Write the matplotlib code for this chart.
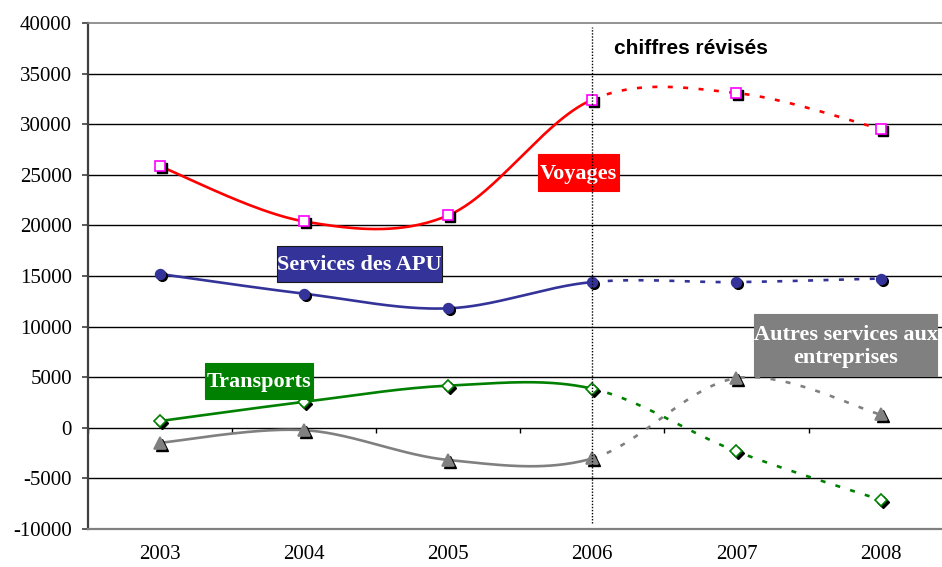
import numpy as np
import matplotlib
matplotlib.use("Agg")
import matplotlib.pyplot as plt
from matplotlib.patches import Rectangle
from matplotlib.transforms import ScaledTranslation

plt.rcParams['lines.scale_dashes'] = False

# ---- data ----
years = ['2003', '2004', '2005', '2006', '2007', '2008']
voyages = [25850, 20400, 21000, 32450, 33100, 29550]
apu = [15200, 13250, 11800, 14400, 14400, 14750]
transports = [650, 2550, 4150, 3850, -2350, -7150]
autres = [-1500, -250, -3200, -3050, 4900, 1300]
yticks = [-10000, -5000, 0, 5000, 10000, 15000, 20000, 25000, 30000, 35000, 40000]
revised_from = 3  # index of 2006

W, H, DPI = 942, 567, 100
fig = plt.figure(figsize=(W / DPI, H / DPI), dpi=DPI)
fig.patch.set_facecolor('white')

left_px, right_px, top_px, bot_px = 88, 952.6, 23.3, 528.7
ax = fig.add_axes([left_px / W, 1 - bot_px / H, (right_px - left_px) / W, (bot_px - top_px) / H])
ax.set_xlim(-0.5, 5.5)
ax.set_ylim(-10000, 40000)
ax.set_facecolor('white')

SERIF = 'Liberation Serif'


def bezier_path(vals, i0, i1, n=60):
    pts = np.array([[i, v] for i, v in enumerate(vals)], dtype=float)
    xs, ys = [], []
    for i in range(i0, i1):
        p0 = pts[i - 1] if i > 0 else pts[i]
        p1 = pts[i]
        p2 = pts[i + 1]
        p3 = pts[i + 2] if i + 2 < len(pts) else pts[i + 1]
        c1 = p1 + (p2 - p0) / 6.0
        c2 = p2 - (p3 - p1) / 6.0
        t = np.linspace(0, 1, n)[:, None]
        b = ((1 - t) ** 3) * p1 + 3 * ((1 - t) ** 2) * t * c1 + 3 * (1 - t) * t ** 2 * c2 + t ** 3 * p2
        xs.append(b[:, 0])
        ys.append(b[:, 1])
    return np.concatenate(xs), np.concatenate(ys)


# gridlines
for v in yticks:
    if v in (-10000, 40000):
        continue
    ax.axhline(v, color='black', lw=1.0, zorder=1)

# zero axis ticks at category boundaries
ax.vlines(np.arange(-0.5, 6.0, 1.0), -500, 0, color='black', lw=1.0, zorder=1)

# vertical dotted line at 2006
ax.vlines(revised_from, -9400, 39600, color='black', lw=1.0, linestyles=(0, (1, 1.2)), zorder=8)

series = [
    (voyages, '#FF0000', 's', 'white', '#FF00FF', 6.5),
    (apu, '#333399', 'o', '#333399', '#333399', 7.0),
    (transports, '#008000', 'D', 'white', '#008000', 6.5),
    (autres, '#808080', '^', '#808080', '#808080', 8.0),
]

shadow = ax.transData + ScaledTranslation(2 / DPI, -2 / DPI, fig.dpi_scale_trans)
for vals, col, mk, fc, ec, ms in series:
    xs, ys = bezier_path(vals, 0, revised_from)
    ax.plot(xs, ys, color=col, lw=1.9, solid_capstyle='round', zorder=3)
    xs, ys = bezier_path(vals, revised_from, len(vals) - 1)
    ax.plot(xs, ys, color=col, lw=1.9, dashes=(3.6, 7.5), dash_capstyle='butt', zorder=3)
    xi = np.arange(len(vals))
    ax.plot(xi, vals, ls='none', marker=mk, ms=ms, mfc='black', mec='black', mew=1.0,
            transform=shadow, zorder=4)
    ax.plot(xi, vals, ls='none', marker=mk, ms=ms, mfc=fc, mec=ec, mew=1.2, zorder=5)

# spines and ticks
for s in ['right']:
    ax.spines[s].set_visible(False)
ax.spines['left'].set_color('#404040')
ax.spines['left'].set_linewidth(1.6)
ax.spines['top'].set_color('#808080')
ax.spines['top'].set_linewidth(1.2)
ax.spines['bottom'].set_color('#808080')
ax.spines['bottom'].set_linewidth(1.6)

ax.set_yticks(yticks)
ax.set_yticklabels([str(v) for v in yticks], fontfamily=SERIF, fontsize=15)
ax.tick_params(axis='y', direction='out', length=4.5, width=1.2, color='#404040', pad=7)
ax.set_xticks(range(len(years)))
ax.set_xticklabels(years, fontfamily=SERIF, fontsize=15)
ax.tick_params(axis='x', length=0, pad=12)


def label_box(x0, y0, x1, y1, text, color, edge=None, fs=16):
    ax.add_patch(Rectangle((x0 / W, 1 - y1 / H), (x1 - x0) / W, (y1 - y0) / H,
                           transform=fig.transFigure, facecolor=color,
                           edgecolor=edge if edge else color,
                           lw=0.8, zorder=6, clip_on=False))
    ax.text((x0 + x1) / 2 / W, 1 - ((y0 + y1) / 2 + 1.5) / H, text, transform=fig.transFigure,
            ha='center', va='center', color='white', fontfamily=SERIF, fontweight='bold',
            fontsize=fs, zorder=7, linespacing=1.15, clip_on=False)


label_box(538, 154, 619, 191, 'Voyages', '#FF0000')
label_box(277, 246, 442, 282, 'Services des APU', '#333399', edge='#1a1a1a')
label_box(205, 363, 313, 399, 'Transports', '#008000')
label_box(754, 314, 937, 376, 'Autres services aux\nentreprises', '#808080')

fig.text(614 / W, 1 - 48 / H, 'chiffres révisés', fontfamily='Liberation Sans', fontweight='bold',
         fontsize=15, ha='left', va='center', color='black')

fig.savefig('out.png', dpi=DPI, facecolor='white')
